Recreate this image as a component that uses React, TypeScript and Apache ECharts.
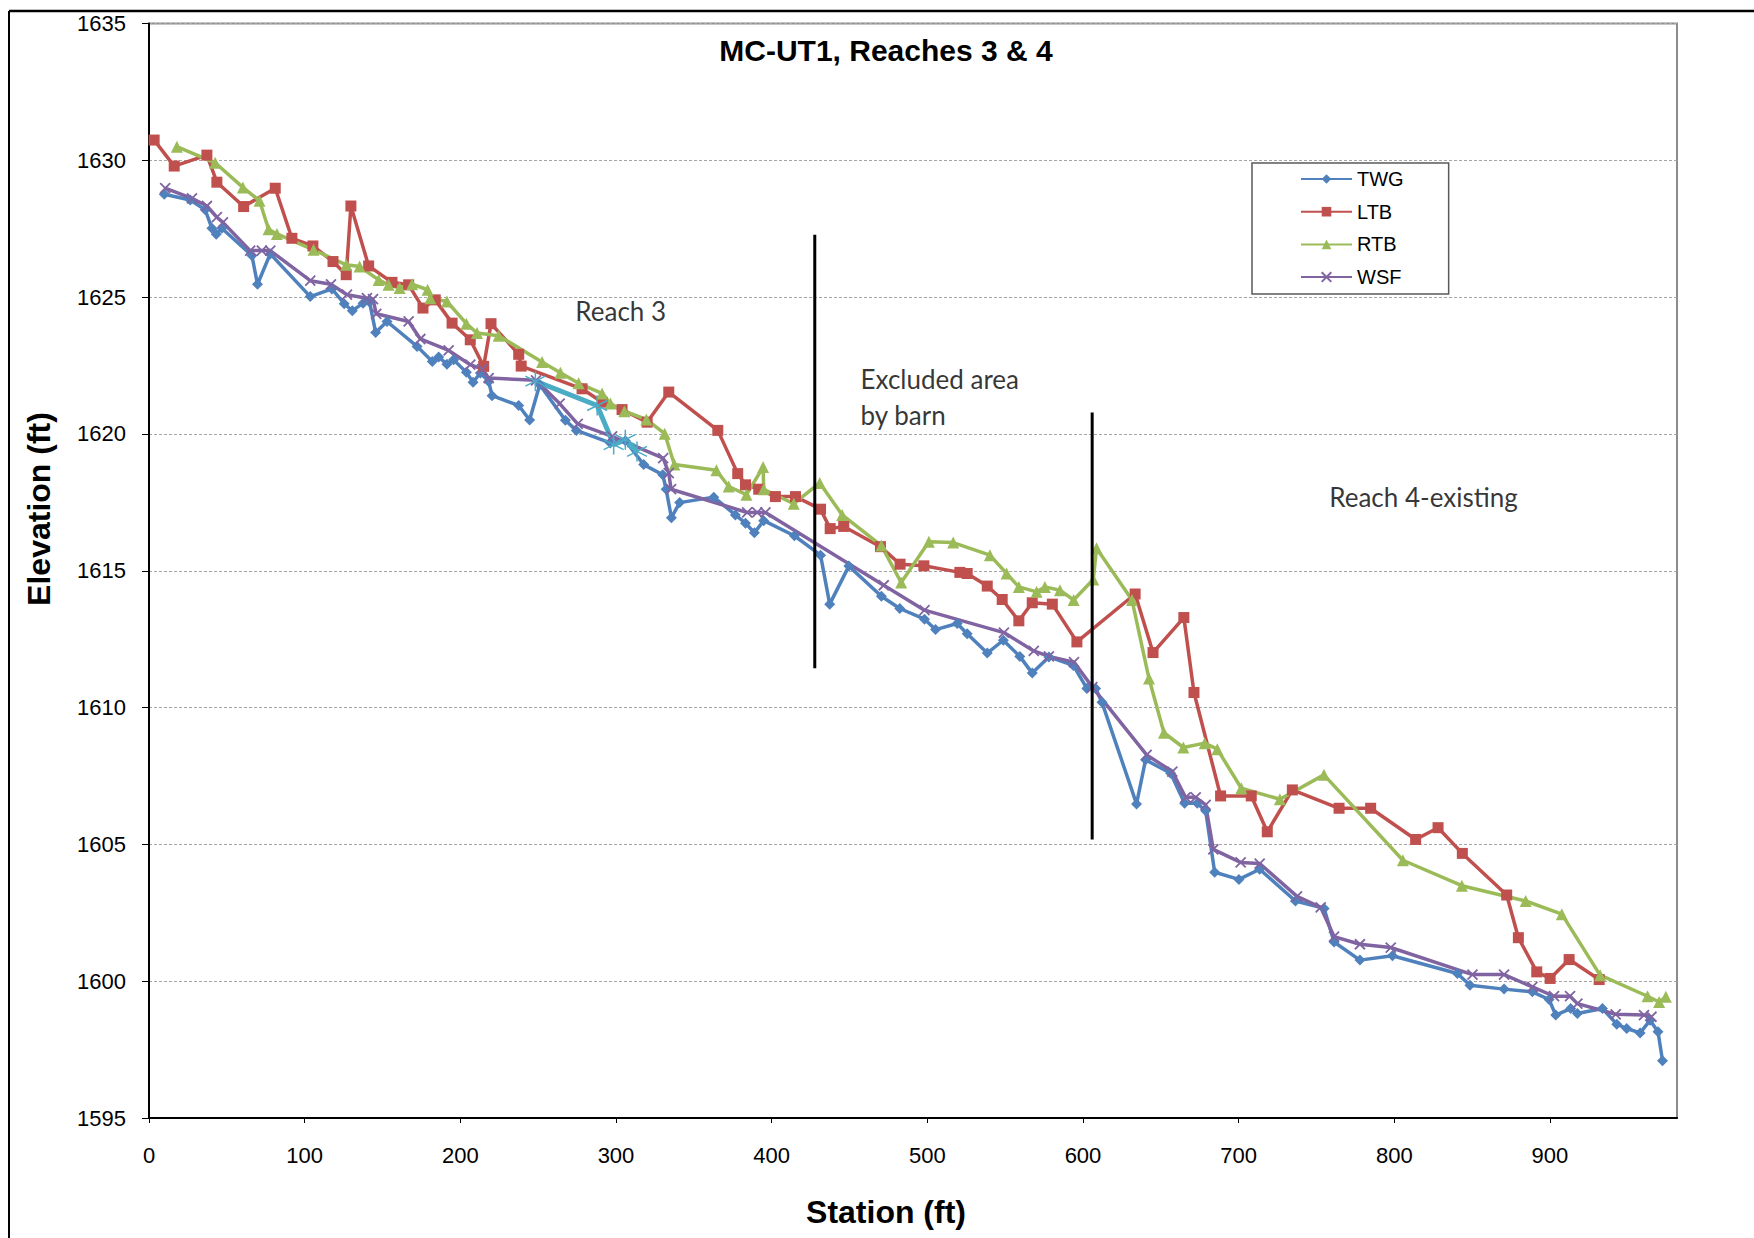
import React, { useEffect, useRef } from "react";
import * as echarts from "echarts";

const legendNames = ["TWG", "LTB", "RTB", "WSF"];

const twg: [number, number][] = [
  [9.8, 1628.76], [26.5, 1628.55], [36.1, 1628.19], [40.4, 1627.52], [43.2, 1627.3], [46.8, 1627.52],
  [66.1, 1626.52], [69.7, 1625.47], [77.9, 1626.58], [103.6, 1625.02], [117.5, 1625.3], [125.4, 1624.76],
  [130.6, 1624.5], [137.5, 1624.78], [141.7, 1624.82], [145.6, 1623.71], [152.9, 1624.11], [172.2, 1623.2],
  [182.0, 1622.65], [186.1, 1622.81], [191.4, 1622.55], [195.7, 1622.71], [203.9, 1622.25], [208.2, 1621.89],
  [212.9, 1622.23], [218.2, 1621.92], [220.4, 1621.4], [237.5, 1621.04], [244.5, 1620.51], [251.0, 1621.8],
  [267.5, 1620.5], [274.5, 1620.13], [296.4, 1619.67], [306.0, 1619.75], [317.8, 1618.88], [330.0, 1618.51],
  [332.2, 1617.98], [335.6, 1616.94], [340.9, 1617.49], [362.8, 1617.69], [376.7, 1617.04], [383.2, 1616.74],
  [388.9, 1616.39], [394.9, 1616.83], [414.6, 1616.28], [431.4, 1615.57], [437.3, 1613.78], [449.6, 1615.17],
  [470.5, 1614.07], [482.3, 1613.62], [498.2, 1613.23], [505.3, 1612.85], [519.2, 1613.07], [525.6, 1612.7],
  [538.5, 1611.99], [548.8, 1612.46], [559.4, 1611.87], [567.4, 1611.26], [578.1, 1611.85], [593.8, 1611.54],
  [602.5, 1610.7], [608.1, 1610.7], [612.2, 1610.19], [634.4, 1606.48], [640.2, 1608.09], [656.3, 1607.6],
  [665.3, 1606.5], [673.4, 1606.5], [678.8, 1606.23], [684.6, 1603.98], [700.2, 1603.72], [713.5, 1604.09],
  [736.5, 1602.93], [754.9, 1602.66], [761.3, 1601.43], [777.9, 1600.77], [798.8, 1600.93], [840.5, 1600.28],
  [848.6, 1599.85], [870.5, 1599.71], [888.7, 1599.61], [899.4, 1599.33], [903.7, 1598.76], [913.3, 1599.0],
  [917.6, 1598.82], [933.7, 1599.0], [942.9, 1598.43], [949.3, 1598.27], [957.9, 1598.11], [964.3, 1598.57],
  [969.4, 1598.15], [972.3, 1597.09],
];

const ltb: [number, number][] = [
  [3.3, 1630.74], [16.2, 1629.79], [37.2, 1630.19], [43.6, 1629.2], [60.8, 1628.31], [81.1, 1628.98],
  [91.8, 1627.15], [105.3, 1626.87], [118.2, 1626.3], [126.7, 1625.82], [129.7, 1628.33], [141.1, 1626.14],
  [156.1, 1625.54], [166.8, 1625.45], [176.0, 1624.6], [183.9, 1624.9], [194.7, 1624.05], [206.4, 1623.44],
  [215.0, 1622.47], [219.7, 1624.03], [237.5, 1622.91], [239.1, 1622.48], [278.2, 1621.65], [291.1, 1621.16],
  [303.9, 1620.89], [320.0, 1620.43], [333.9, 1621.53], [365.4, 1620.13], [378.2, 1618.55], [383.2, 1618.14],
  [391.7, 1617.98], [402.4, 1617.71], [415.3, 1617.71], [431.4, 1617.25], [437.6, 1616.54], [446.3, 1616.62],
  [469.9, 1615.88], [482.5, 1615.24], [497.8, 1615.18], [520.9, 1614.94], [525.6, 1614.9], [538.5, 1614.44],
  [548.1, 1613.95], [558.8, 1613.17], [567.4, 1613.83], [580.3, 1613.78], [596.1, 1612.4], [633.5, 1614.15],
  [645.0, 1612.01], [664.8, 1613.29], [671.3, 1610.55], [688.4, 1606.77], [708.1, 1606.77], [718.4, 1605.46],
  [734.5, 1606.99], [764.5, 1606.32], [784.8, 1606.32], [813.7, 1605.18], [828.1, 1605.61], [843.7, 1604.67],
  [872.2, 1603.15], [879.7, 1601.59], [891.5, 1600.34], [900.1, 1600.1], [912.3, 1600.79], [931.6, 1600.06],
];

const rtb: [number, number][] = [
  [17.9, 1630.5], [42.5, 1629.91], [60.3, 1629.01], [71.0, 1628.52], [76.8, 1627.48], [82.2, 1627.31],
  [105.7, 1626.73], [126.7, 1626.18], [135.3, 1626.12], [147.5, 1625.63], [153.9, 1625.45], [161.0, 1625.33],
  [169.0, 1625.47], [179.0, 1625.27], [180.7, 1624.96], [191.4, 1624.84], [203.9, 1624.03], [210.7, 1623.69],
  [224.6, 1623.59], [252.5, 1622.63], [264.3, 1622.24], [276.0, 1621.85], [291.1, 1621.48], [296.4, 1621.11],
  [305.4, 1620.83], [319.5, 1620.53], [331.3, 1620.01], [337.5, 1618.88], [364.5, 1618.67], [372.4, 1618.08],
  [383.8, 1617.78], [394.5, 1618.79], [394.9, 1617.98], [414.2, 1617.45], [430.9, 1618.21], [445.3, 1617.04],
  [470.5, 1615.92], [483.2, 1614.57], [501.0, 1616.06], [516.6, 1616.03], [540.2, 1615.57], [550.9, 1614.9],
  [558.8, 1614.41], [570.2, 1614.23], [575.5, 1614.41], [585.2, 1614.29], [594.0, 1613.93], [606.6, 1614.68],
  [608.7, 1615.82], [631.5, 1613.93], [642.4, 1611.06], [652.0, 1609.08], [664.5, 1608.54], [678.2, 1608.7],
  [686.3, 1608.48], [701.7, 1607.05], [726.5, 1606.65], [754.8, 1607.54], [805.5, 1604.42], [843.4, 1603.49],
  [884.4, 1602.93], [907.6, 1602.45], [932.2, 1600.22], [962.7, 1599.45], [970.1, 1599.24], [974.4, 1599.43],
];

const wsf: [number, number][] = [
  [10.4, 1628.98], [27.6, 1628.61], [37.2, 1628.33], [43.6, 1627.92], [47.5, 1627.73], [65.0, 1626.7],
  [72.5, 1626.7], [77.9, 1626.7], [103.6, 1625.6], [116.9, 1625.47], [127.2, 1625.09], [140.0, 1624.96],
  [143.9, 1624.93], [146.0, 1624.39], [166.8, 1624.11], [174.3, 1623.47], [192.5, 1623.05], [206.4, 1622.53],
  [214.0, 1622.37], [218.2, 1622.04], [248.6, 1621.96], [263.8, 1621.11], [275.4, 1620.37], [297.5, 1619.91],
  [330.3, 1619.12], [333.9, 1618.57], [335.4, 1617.98], [384.3, 1617.13], [390.7, 1617.13], [396.0, 1617.13],
  [472.0, 1614.47], [498.2, 1613.56], [549.2, 1612.74], [568.4, 1612.07], [578.1, 1611.87], [594.2, 1611.66],
  [606.0, 1610.75], [640.9, 1608.27], [657.4, 1607.66], [665.9, 1606.72], [672.4, 1606.72], [678.8, 1606.44],
  [683.7, 1604.82], [701.3, 1604.34], [713.5, 1604.3], [737.5, 1603.1], [752.7, 1602.7], [761.3, 1601.63],
  [777.9, 1601.35], [797.7, 1601.23], [850.2, 1600.24], [870.5, 1600.24], [888.7, 1599.79], [902.6, 1599.45],
  [912.9, 1599.45], [917.6, 1599.18], [942.2, 1598.79], [960.4, 1598.76], [965.2, 1598.7],
];

const extra: [number, number][] = [
  [248.2, 1621.93], [287.9, 1621.04], [298.5, 1619.61], [306.0, 1619.79], [313.5, 1619.36],
];

const dividerStations = [427.7, 605.9];
const dividerTops = [1627.28, 1620.78];
const dividerBottoms = [1611.44, 1605.18];

const annotationTexts = ["Reach 3", "Excluded area\nby barn", "Reach 4-existing"];
const annotationStations = [303.0, 456.8, 757.9];
const annotationElevations = [1624.5, 1621.35, 1617.71];
const annotationAnchors = ["inside", "right", "right"];

const xTickInterval = 100;
const yTickInterval = 5;

const colors = ["#4F81BD", "#C0504D", "#9BBB59", "#8064A2", "#4BACC6"];
const ARIAL = "'Liberation Sans', Arial, sans-serif";

export default function App() {
  const ref = useRef<HTMLDivElement>(null);
  useEffect(() => {
    const chart = echarts.init(ref.current!, null, { renderer: "svg" });
    const lineBase = (name: string, data: [number, number][], color: string) => ({
      name,
      type: "line",
      data,
      color,
      lineStyle: { color, width: 3.5 },
      itemStyle: { color },
      emphasis: { disabled: true },
    });
    const dividerSeries = dividerStations.map((s, i) => ({
      name: "divider" + i,
      type: "line",
      data: [
        [s, dividerTops[i]],
        [s, dividerBottoms[i]],
      ],
      symbol: "none",
      silent: true,
      lineStyle: { color: "#000", width: 3 },
      z: 5,
    }));
    const option: any = {
      animation: false,
      backgroundColor: "#fff",
      title: {
        text: "MC-UT1, Reaches 3 & 4",
        left: 886,
        top: 35,
        textAlign: "center",
        padding: 0,
        textStyle: { fontFamily: ARIAL, fontWeight: "bold", fontSize: 30, color: "#000" },
      },
      legend: {
        data: legendNames,
        orient: "vertical",
        left: 1252,
        top: 163,
        padding: [6, 45, 7, 48],
        itemGap: 12.7,
        itemWidth: 51,
        itemHeight: 12,
        borderColor: "#595959",
        borderWidth: 1.5,
        textStyle: { fontFamily: ARIAL, fontSize: 20, color: "#000", lineHeight: 20 },
      },
      grid: {
        left: 149,
        right: 77,
        top: 23.5,
        bottom: 120,
        show: true,
        borderColor: "#8c8c8c",
        borderWidth: 2,
        outerBoundsMode: "none",
        containLabel: false,
      },
      xAxis: {
        type: "value",
        min: 0,
        max: 981.6,
        interval: xTickInterval,
        axisLine: { show: true, onZero: false, lineStyle: { color: "#000", width: 2 } },
        axisTick: { show: true, length: 5, lineStyle: { color: "#000" } },
        axisLabel: {
          fontFamily: ARIAL,
          fontSize: 22,
          color: "#000",
          margin: 26,
          showMaxLabel: false,
          formatter: (v: number) => String(v),
        },
        splitLine: { show: false },
      },
      yAxis: {
        type: "value",
        min: 1595,
        max: 1635,
        interval: yTickInterval,
        axisLine: { show: true, onZero: false, lineStyle: { color: "#000", width: 2 } },
        axisTick: { show: true, length: 7, lineStyle: { color: "#000" } },
        axisLabel: {
          fontFamily: ARIAL,
          fontSize: 22,
          color: "#000",
          margin: 23,
          formatter: (v: number) => String(v),
        },
        splitLine: { show: true, lineStyle: { color: "#a6a6a6", type: [3, 2], width: 1 } },
      },
      graphic: [
        { type: "line", shape: { x1: 9, y1: 11, x2: 1754, y2: 11 }, style: { stroke: "#000", lineWidth: 2.5 } },
        { type: "line", shape: { x1: 9, y1: 11, x2: 9, y2: 1238 }, style: { stroke: "#000", lineWidth: 2 } },
        {
          type: "text",
          x: 886,
          y: 1212,
          style: {
            text: "Station (ft)",
            fontFamily: ARIAL,
            fontWeight: "bold",
            fontSize: 32,
            fill: "#000",
            align: "center",
            verticalAlign: "middle",
          },
        },
        {
          type: "text",
          x: 39,
          y: 509,
          rotation: Math.PI / 2,
          style: {
            text: "Elevation (ft)",
            fontFamily: ARIAL,
            fontWeight: "bold",
            fontSize: 32,
            fill: "#000",
            align: "center",
            verticalAlign: "middle",
          },
        },
      ],
      series: [
        { ...lineBase("TWG", twg, colors[0]), symbol: "diamond", symbolSize: 11 },
        { ...lineBase("LTB", ltb, colors[1]), symbol: "rect", symbolSize: 11 },
        { ...lineBase("RTB", rtb, colors[2]), symbol: "triangle", symbolSize: 12 },
        {
          ...lineBase("WSF", wsf, colors[3]),
          symbol: "path://M0,0L10,10M10,0L0,10",
          symbolSize: 10,
          itemStyle: { color: colors[3], borderColor: colors[3], borderWidth: 1.8 },
        },
        {
          name: "extra",
          type: "line",
          data: extra,
          symbol: "path://M5,0L5,10M0.7,2.5L9.3,7.5M0.7,7.5L9.3,2.5",
          symbolSize: 20,
          lineStyle: { color: colors[4], width: 5 },
          itemStyle: { color: colors[4], borderColor: colors[4], borderWidth: 1.5 },
          emphasis: { disabled: true },
          z: 3,
        },
        ...dividerSeries,
        {
          name: "annotations",
          type: "scatter",
          symbolSize: 1,
          itemStyle: { color: "rgba(0,0,0,0)" },
          silent: true,
          z: 6,
          data: annotationTexts.map((t, i) => ({
            value: [annotationStations[i], annotationElevations[i]],
            name: t,
            label: {
              show: true,
              position: annotationAnchors[i],
              distance: 0,
              align: annotationAnchors[i] === "inside" ? "center" : "left",
              formatter: t,
              fontFamily: "Lato, 'Open Sans', sans-serif",
              fontSize: 26,
              lineHeight: 36,
              color: "#000",
            },
          })),
        },
      ],
    };
    chart.setOption(option);
    return () => chart.dispose();
  }, []);
  return (
    <div
      ref={ref}
      style={{ position: "fixed", left: 0, top: 0, width: 1754, height: 1238, background: "#fff" }}
    />
  );
}
